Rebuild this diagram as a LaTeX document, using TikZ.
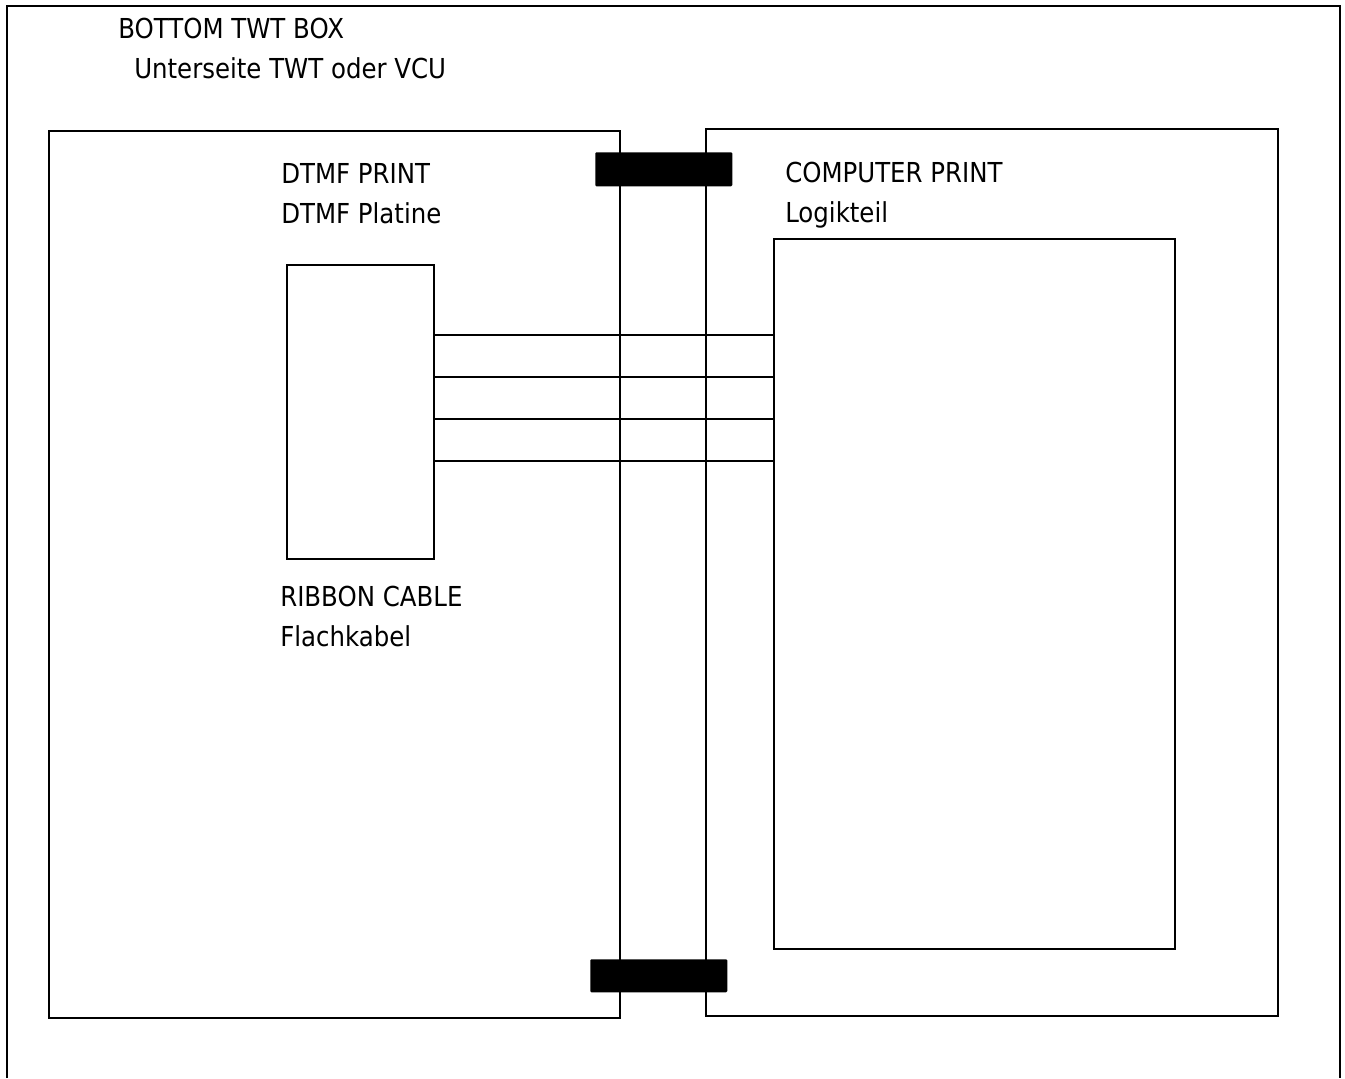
\documentclass[tikz,border=0pt]{standalone}
\usepackage{fontspec}
\setmainfont{DejaVu Sans}[FakeStretch=0.89]
\begin{document}
\begin{tikzpicture}[x=0.75pt,y=-0.75pt,
  frame/.style={draw=black,line width=1.9pt},
  board/.style={draw=black,line width=1.7pt},
  wire/.style={draw=black,line width=1.6pt},
  plug/.style={fill=black,rounded corners=0.8pt},
  lbl/.style={anchor=base west,inner sep=0pt,font=\fontsize{20.6pt}{24pt}\selectfont}]
\useasboundingbox (0,0) rectangle (1345,1078);
% outer frame (open at bottom)
\draw[frame] (7,1078) -- (7,6) -- (1340,6) -- (1340,1078);
% boards
\draw[board] (49,131) rectangle (620,1018);
\draw[board] (706,129) rectangle (1278,1016);
% inner boxes
\node[board,minimum width=147*0.75pt,minimum height=294*0.75pt,inner sep=0pt,anchor=north west] (rib) at (286,264) {};
\node[board,minimum width=401*0.75pt,minimum height=710*0.75pt,inner sep=0pt,anchor=north west] (logic) at (773,238) {};
% ribbon wires
\foreach \yy in {335,377,419,461}{
  \coordinate (a) at (rib.east |- 0,\yy);
  \coordinate (b) at (logic.west |- 0,\yy);
  \draw[wire] (a) -- (b);
}
% connectors
\node[plug,minimum width=137*0.75pt,minimum height=34*0.75pt,inner sep=0pt,anchor=north west] (ctop) at (595,152) {};
\node[plug,minimum width=137*0.75pt,minimum height=33*0.75pt,inner sep=0pt,anchor=north west] (cbot) at (590,959) {};
% labels
\node[lbl] (t1) at (118,38) {BOTTOM TWT BOX};
\node[lbl] (t2) at (134,78) {Unterseite TWT oder VCU};
\node[lbl] (t3) at (281,183) {DTMF PRINT};
\node[lbl] (t4) at (281,223) {DTMF Platine};
\node[lbl] (t5) at (785,182) {COMPUTER PRINT};
\node[lbl] (t6) at (785,222) {Logikteil};
\node[lbl] (t7) at (280,606) {RIBBON CABLE};
\node[lbl] (t8) at (280,646) {Flachkabel};
\end{tikzpicture}
\end{document}
